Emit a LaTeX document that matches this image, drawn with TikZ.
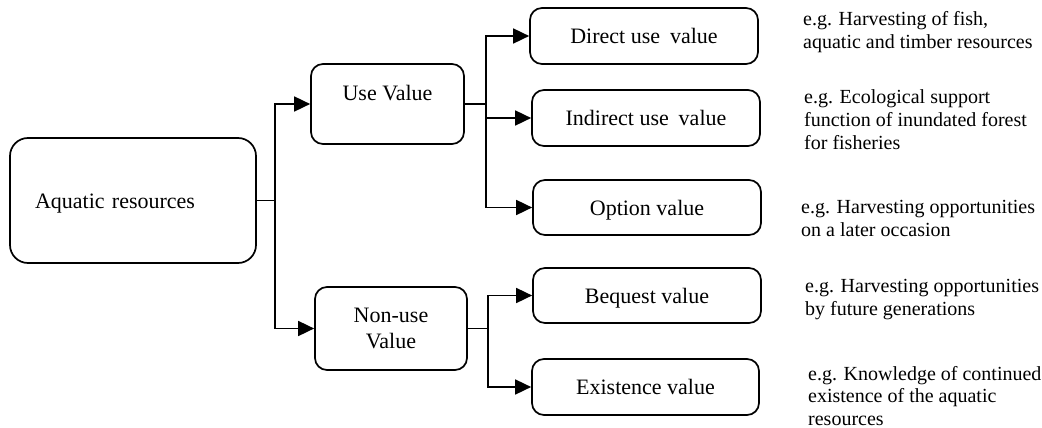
\documentclass[tikz,border=0pt]{standalone}
\usepackage{fontspec}
\setmainfont{Liberation Serif}
\usetikzlibrary{arrows.meta}
\begin{document}
\begin{tikzpicture}[x=1pt,y=-1pt,
  boxbase/.style={draw, line width=1.7pt, rounded corners=12pt, inner sep=0pt,
    font=\fontsize{22}{26}\selectfont, align=center},
  box1/.style={boxbase, text height=15pt, text depth=0pt},
  conn/.style={line width=1.7pt},
  arr/.style={line width=1.7pt, -{Triangle[length=16pt,width=15pt]}},
  note/.style={font=\fontsize{20}{23}\selectfont, align=left, inner sep=0pt, anchor=north west}]
\useasboundingbox (0,0) rectangle (1042,428);
% boxes
\node[box1, rounded corners=18pt, minimum width=246pt, minimum height=125pt,
      text width=196pt, align=left, inner xsep=25pt] (aq) at (133,200.5) {Aquatic resources};
\node[boxbase, minimum width=153pt, minimum height=80pt, text height=15pt, text depth=23pt] (use) at (387.5,104) {Use Value};
\node[boxbase, minimum width=152pt, minimum height=83pt] (non) at (391,328.5) {Non-use\\Value};
\node[box1, minimum width=228pt, minimum height=56pt] (dir) at (644,36) {Direct use\hspace{0.45em}value};
\node[box1, minimum width=228pt, minimum height=56pt] (ind) at (646,118) {Indirect use\hspace{0.45em}value};
\node[box1, minimum width=228pt, minimum height=55pt] (opt) at (647,207.5) {Option value};
\node[box1, minimum width=228pt, minimum height=55pt] (beq) at (647,295.5) {Bequest value};
\node[box1, minimum width=227pt, minimum height=56pt] (ex) at (645.5,387) {Existence value};
% junctions
\coordinate (j1) at (275,200.5);
\coordinate (j2) at (486,104);
\coordinate (j3) at (488,328.5);
% connectors
\draw[conn] (aq.east) -- (j1);
\draw[arr] (j1) |- (use.west);
\draw[arr] (j1) |- (non.west);
\draw[conn] (use.east) -- (j2);
\draw[arr] (j2) |- (dir.west);
\draw[arr] (j2) |- (ind.west);
\draw[arr] (j2) |- (opt.west);
\draw[conn] (non.east) -- (j3);
\draw[arr] (j3) |- (beq.west);
\draw[arr] (j3) |- (ex.west);
% notes
\node[note] (n1) at (803,10) {\rule{0pt}{15pt}e.g. Harvesting of fish,\\aquatic and timber resources};
\node[note] (n2) at (804,88) {\rule{0pt}{15pt}e.g. Ecological support\\function of inundated forest\\for fisheries};
\node[note] (n3) at (801,198) {\rule{0pt}{15pt}e.g. Harvesting opportunities\\on a later occasion};
\node[note] (n4) at (805,277) {\rule{0pt}{15pt}e.g. Harvesting opportunities\\by future generations};
\node[note, font=\fontsize{20}{22.5}\selectfont] (n5) at (808,365) {\rule{0pt}{15pt}e.g. Knowledge of continued\\existence of the aquatic\\resources};
\end{tikzpicture}
\end{document}
